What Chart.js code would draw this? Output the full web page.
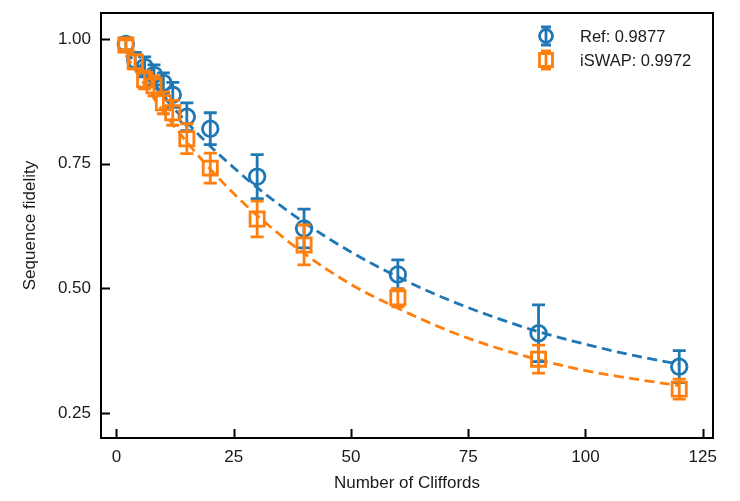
<!DOCTYPE html>
<html>
<head>
<meta charset="utf-8">
<script src="https://cdn.jsdelivr.net/npm/chart.js@4.4.1/dist/chart.umd.min.js"></script>
<style>
  html, body { margin: 0; padding: 0; background: #ffffff; }
  #wrap { width: 740px; height: 501px; position: relative; }
</style>
</head>
<body>
<div id="wrap"><canvas id="c" width="740" height="501"></canvas></div>
<script>
// ---- Data ----
const cliffords = [2, 4, 6, 8, 10, 12, 15, 20, 30, 40, 60, 90, 120];
const refFidelity = [0.990, 0.958, 0.944, 0.928, 0.912, 0.888, 0.844, 0.820, 0.724, 0.620, 0.528, 0.410, 0.343];
const refError    = [0.012, 0.015, 0.020, 0.020, 0.020, 0.025, 0.028, 0.032, 0.044, 0.039, 0.029, 0.057, 0.032];
const iswapFidelity = [0.988, 0.954, 0.918, 0.906, 0.872, 0.852, 0.800, 0.741, 0.639, 0.587, 0.481, 0.358, 0.298];
const iswapError    = [0.010, 0.014, 0.018, 0.020, 0.022, 0.025, 0.030, 0.030, 0.036, 0.040, 0.018, 0.028, 0.020];

// dashed fit curves
const fitX = [2, 5, 10, 15, 20, 25, 30, 40, 50, 60, 70, 80, 90, 100, 110, 120];
const refFit   = [0.976, 0.940, 0.884, 0.833, 0.785, 0.742, 0.702, 0.632, 0.573, 0.523, 0.480, 0.444, 0.413, 0.388, 0.366, 0.348];
const iswapFit = [0.968, 0.923, 0.854, 0.793, 0.739, 0.690, 0.646, 0.570, 0.508, 0.460, 0.418, 0.384, 0.357, 0.335, 0.319, 0.305];

const xTicks = [0, 25, 50, 75, 100, 125];
const yTicks = [0.25, 0.50, 0.75, 1.00];
const legendLabels = ['Ref: 0.9877', 'iSWAP: 0.9972'];
const xTitle = 'Number of Cliffords';
const yTitle = 'Sequence fidelity';

const BLUE = '#1f77b4';
const ORANGE = '#ff7f0e';
const FONT = 'Liberation Sans, Arial, sans-serif';
const TEXT = '#1a1a1a';
const LW = 2.8;

const pts = (xs, ys) => xs.map((x, i) => ({ x: x, y: ys[i] }));

const errPlugin = {
  id: 'errbars',
  afterDatasetDraw(chart, args) {
    const ds = chart.data.datasets[args.index];
    if (!ds.errors) return;
    const ctx = chart.ctx, xs = chart.scales.x, ys = chart.scales.y;
    ctx.save();
    ctx.strokeStyle = ds.borderColor;
    ctx.lineWidth = LW;
    ctx.lineCap = 'butt';
    ds.data.forEach((p, i) => {
      const e = ds.errors[i];
      const px = xs.getPixelForValue(p.x);
      const top = ys.getPixelForValue(p.y + e);
      const bot = ys.getPixelForValue(p.y - e);
      ctx.beginPath();
      ctx.moveTo(px, top); ctx.lineTo(px, bot);
      ctx.moveTo(px - 6.5, top); ctx.lineTo(px + 6.5, top);
      ctx.moveTo(px - 6.5, bot); ctx.lineTo(px + 6.5, bot);
      ctx.stroke();
    });
    ctx.restore();
  }
};

const framePlugin = {
  id: 'frame',
  afterDraw(chart) {
    const ctx = chart.ctx, a = chart.chartArea;
    const xs = chart.scales.x, ys = chart.scales.y;
    ctx.save();
    ctx.strokeStyle = '#000';
    ctx.lineWidth = 2;
    ctx.strokeRect(a.left, a.top, a.right - a.left, a.bottom - a.top);
    ctx.beginPath();
    xTicks.forEach(v => {
      const px = Math.round(xs.getPixelForValue(v)) + 0.5;
      ctx.moveTo(px, a.bottom); ctx.lineTo(px, a.bottom - 9);
    });
    yTicks.forEach(v => {
      const py = Math.round(ys.getPixelForValue(v)) + 0.5;
      ctx.moveTo(a.left, py); ctx.lineTo(a.left + 9, py);
    });
    ctx.stroke();

    // legend
    const items = [
      { label: legendLabels[0], color: BLUE, style: 'circle', y: 36 },
      { label: legendLabels[1], color: ORANGE, style: 'rect', y: 60 }
    ];
    const mx = 546;
    items.forEach(it => {
      ctx.strokeStyle = it.color;
      ctx.lineWidth = LW;
      ctx.beginPath();
      ctx.moveTo(mx, it.y - 9); ctx.lineTo(mx, it.y + 9);
      ctx.moveTo(mx - 5, it.y - 9); ctx.lineTo(mx + 5, it.y - 9);
      ctx.moveTo(mx - 5, it.y + 9); ctx.lineTo(mx + 5, it.y + 9);
      ctx.stroke();
      ctx.beginPath();
      if (it.style === 'circle') {
        ctx.arc(mx, it.y, 6.5, 0, Math.PI * 2);
      } else {
        ctx.rect(mx - 6.5, it.y - 6.5, 13, 13);
      }
      ctx.stroke();
      ctx.fillStyle = TEXT;
      ctx.font = '16.5px ' + FONT;
      ctx.textBaseline = 'middle';
      ctx.textAlign = 'left';
      ctx.fillText(it.label, 580, it.y + 1);
    });
    ctx.restore();
  }
};

new Chart(document.getElementById('c'), {
  type: 'scatter',
  data: {
    datasets: [
      {
        label: 'iSWAP',
        data: pts(cliffords, iswapFidelity),
        errors: iswapError,
        borderColor: ORANGE,
        backgroundColor: 'rgba(0,0,0,0)',
        pointStyle: 'rect',
        pointRadius: 10,
        borderWidth: LW,
        order: 0
      },
      {
        label: 'Ref',
        data: pts(cliffords, refFidelity),
        errors: refError,
        borderColor: BLUE,
        backgroundColor: 'rgba(0,0,0,0)',
        pointStyle: 'circle',
        pointRadius: 7.8,
        borderWidth: LW,
        order: 1
      },
      {
        label: 'iSWAP fit',
        data: pts(fitX, iswapFit),
        showLine: true,
        borderColor: ORANGE,
        borderWidth: LW,
        borderDash: [10, 5.5],
        pointRadius: 0,
        cubicInterpolationMode: 'monotone',
        fill: false,
        order: 2
      },
      {
        label: 'Ref fit',
        data: pts(fitX, refFit),
        showLine: true,
        borderColor: BLUE,
        borderWidth: LW,
        borderDash: [10, 5.5],
        pointRadius: 0,
        cubicInterpolationMode: 'monotone',
        fill: false,
        order: 3
      }
    ]
  },
  options: {
    responsive: false,
    animation: false,
    layout: { padding: { left: 0, top: 13, right: 27, bottom: 0 } },
    plugins: {
      legend: { display: false },
      tooltip: { enabled: false }
    },
    scales: {
      x: {
        type: 'linear',
        min: -3.3,
        max: 127.2,
        afterBuildTicks: s => { s.ticks = xTicks.map(v => ({ value: v })); },
        afterFit: s => { s.height = 63; s.paddingLeft = 0; s.paddingRight = 0; },
        grid: { display: false, drawTicks: false },
        border: { display: false },
        ticks: {
          color: TEXT,
          font: { family: FONT, size: 17 },
          padding: 9,
          maxRotation: 0,
          callback: v => String(v)
        },
        title: {
          display: true,
          text: xTitle,
          color: TEXT,
          font: { family: FONT, size: 17 },
          padding: { top: 0, bottom: 7 }
        }
      },
      y: {
        type: 'linear',
        min: 0.2,
        max: 1.052,
        afterBuildTicks: s => { s.ticks = yTicks.map(v => ({ value: v })); },
        afterFit: s => { s.width = 101; s.paddingTop = 0; s.paddingBottom = 0; },
        grid: { display: false, drawTicks: false },
        border: { display: false },
        ticks: {
          color: TEXT,
          font: { family: FONT, size: 17 },
          padding: 10,
          callback: v => Number(v).toFixed(2)
        },
        title: {
          display: true,
          text: yTitle,
          color: TEXT,
          font: { family: FONT, size: 17 },
          padding: { top: 20, bottom: 0 }
        }
      }
    }
  },
  plugins: [errPlugin, framePlugin]
});
</script>
</body>
</html>
